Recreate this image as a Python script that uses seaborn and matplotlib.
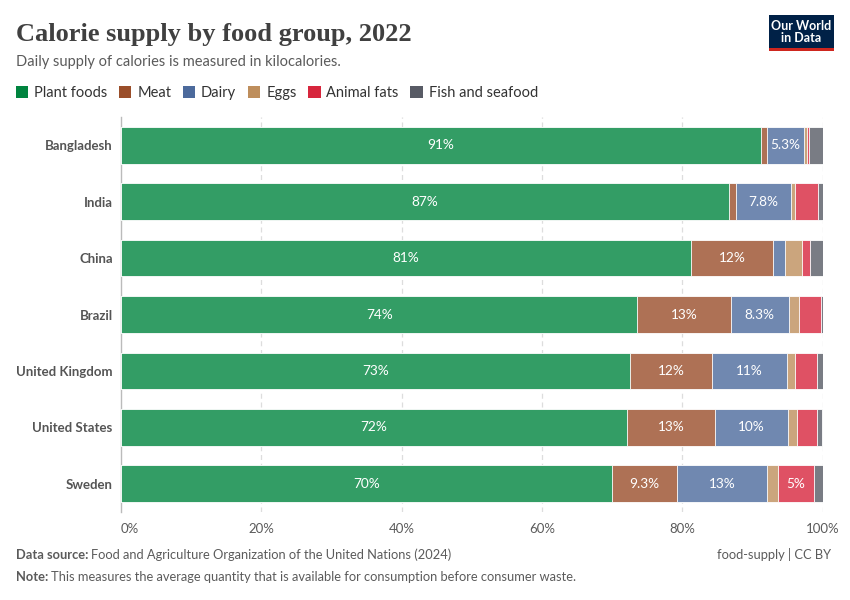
import matplotlib
matplotlib.use('Agg')
import matplotlib.pyplot as plt
from matplotlib.patches import Patch, Rectangle
import seaborn as sns
import pandas as pd
import numpy as np

# Share of daily calorie supply (%), 2022
countries = ['Bangladesh', 'India', 'China', 'Brazil', 'United Kingdom', 'United States', 'Sweden']
plant_foods = [91.2, 86.7, 81.3, 73.6, 72.6, 72.1, 70.0]
meat = [0.8, 1.0, 11.6, 13.3, 11.6, 12.6, 9.3]
dairy = [5.3, 7.8, 1.8, 8.3, 10.7, 10.3, 12.8]
eggs = [0.4, 0.6, 2.4, 1.4, 1.1, 1.3, 1.6]
animal_fats = [0.3, 3.3, 1.1, 3.1, 3.2, 2.9, 5.0]
fish_seafood = [2.0, 0.6, 1.8, 0.3, 0.8, 0.7, 1.4]

groups = ['Plant foods', 'Meat', 'Dairy', 'Eggs', 'Animal fats', 'Fish and seafood']
series = [plant_foods, meat, dairy, eggs, animal_fats, fish_seafood]
colors = ['#00843F', '#9A4E2A', '#4C6A9C', '#BE8E5C', '#D7263D', '#585B65']

ticks = [0, 20, 40, 60, 80, 100]
tick_labels = ['0%', '20%', '40%', '60%', '80%', '100%']

TEXT = '#5b5b5b'


def blend(hex_color, alpha=0.8):
    rgb = np.array(matplotlib.colors.to_rgb(hex_color))
    return tuple(alpha * rgb + (1 - alpha))


def fmt(v):
    if v >= 9.95:
        return f'{v:.0f}%'
    s = f'{v:.1f}'
    if s.endswith('.0'):
        s = s[:-2]
    return s + '%'


sns.set_theme(style='white')
plt.rcParams['font.family'] = ['Lato', 'DejaVu Sans']

df = pd.DataFrame({'country': countries})
for g, vals in zip(groups, series):
    df[g] = vals
cum = df[groups].cumsum(axis=1)

fig = plt.figure(figsize=(8.5, 6), dpi=100)
ax = fig.add_axes([121 / 850, 1 - 512 / 600, (823 - 121) / 850, (512 - 117) / 600])

# stacked bars: draw cumulative totals from the outermost segment inward
for g, c in reversed(list(zip(groups, colors))):
    sns.barplot(data=cum.assign(country=countries), x=g, y='country', order=countries,
                color=blend(c), saturation=1, width=0.65, edgecolor='white', linewidth=0.6,
                orient='h', ax=ax, zorder=3)

# segment labels
for i, country in enumerate(countries):
    left = 0
    for g in groups:
        v = df.loc[i, g]
        if v >= 4.5:
            ax.text(left + v / 2, i, fmt(v), ha='center', va='center',
                    color='white', fontsize=9.8, zorder=5)
        left += v

ax.set_xlim(0, 100.05)
ax.set_ylim(len(countries) - 0.5, -0.5)
ax.set_xlabel('')
ax.set_ylabel('')
ax.set_xticks(ticks)
ax.set_xticklabels(tick_labels, color=TEXT, fontsize=9.5)
ax.get_xticklabels()[0].set_ha('left')
ax.tick_params(axis='x', length=0, pad=8)
ax.tick_params(axis='y', length=0, pad=6)
for lab in ax.get_yticklabels():
    lab.set_color('#555555')
    lab.set_fontsize(9.5)
    lab.set_fontweight('bold')
for t in ticks[1:]:
    ax.axvline(t, color='#dddddd', linestyle=(0, (4, 3)), linewidth=0.9, zorder=1)
for s in ['top', 'right', 'bottom']:
    ax.spines[s].set_visible(False)
ax.spines['left'].set_color('#bbbbbb')
ax.spines['left'].set_linewidth(1.0)
ax.grid(False)

# title and subtitle
fig.text(16 / 850, 1 - 41 / 600, 'Calorie supply by food group, 2022',
         family=['Liberation Serif', 'DejaVu Serif'], fontsize=19, color='#404040',
         va='baseline', fontweight='bold')
fig.text(16 / 850, 1 - 66 / 600, 'Daily supply of calories is measured in kilocalories.',
         fontsize=10.5, color=TEXT, va='baseline')

# legend
handles = [Patch(facecolor=c, edgecolor='none') for c in colors]
fig.legend(handles, groups, loc='upper left', bbox_to_anchor=(10 / 850, 1 - 80 / 600),
           ncol=6, frameon=False, fontsize=10.5, handlelength=0.85, handleheight=0.85,
           handletextpad=0.4, columnspacing=0.8, labelcolor='#333333', borderaxespad=0)

# logo
fig.patches.append(Rectangle((769 / 850, 1 - 48 / 600), 65 / 850, 33 / 600,
                             transform=fig.transFigure, facecolor='#002147', edgecolor='none'))
fig.patches.append(Rectangle((769 / 850, 1 - 51 / 600), 65 / 850, 3 / 600,
                             transform=fig.transFigure, facecolor='#CE261E', edgecolor='none'))
fig.text(801.5 / 850, 1 - 31.5 / 600, 'Our World\nin Data', ha='center', va='center',
         color='white', fontsize=9, linespacing=1.0,
         family=['Liberation Sans Narrow', 'Lato'], fontweight='bold')

# footer
renderer = fig.canvas.get_renderer()


def mixed(x, y, bold, rest):
    t = fig.text(x, y, bold, fontsize=9.3, color=TEXT, fontweight='bold', va='baseline')
    bb = t.get_window_extent(renderer)
    fig.text(bb.x1 / fig.bbox.width + 3 / 850, y, rest, fontsize=9.3, color=TEXT, va='baseline')


mixed(16 / 850, 1 - 559 / 600, 'Data source:',
      'Food and Agriculture Organization of the United Nations (2024)')
mixed(16 / 850, 1 - 581 / 600, 'Note:',
      'This measures the average quantity that is available for consumption before consumer waste.')
fig.text(831 / 850, 1 - 559 / 600, 'food-supply | CC BY', ha='right', fontsize=9.3,
         color=TEXT, va='baseline')

fig.savefig('out.png', dpi=100, facecolor='white')
